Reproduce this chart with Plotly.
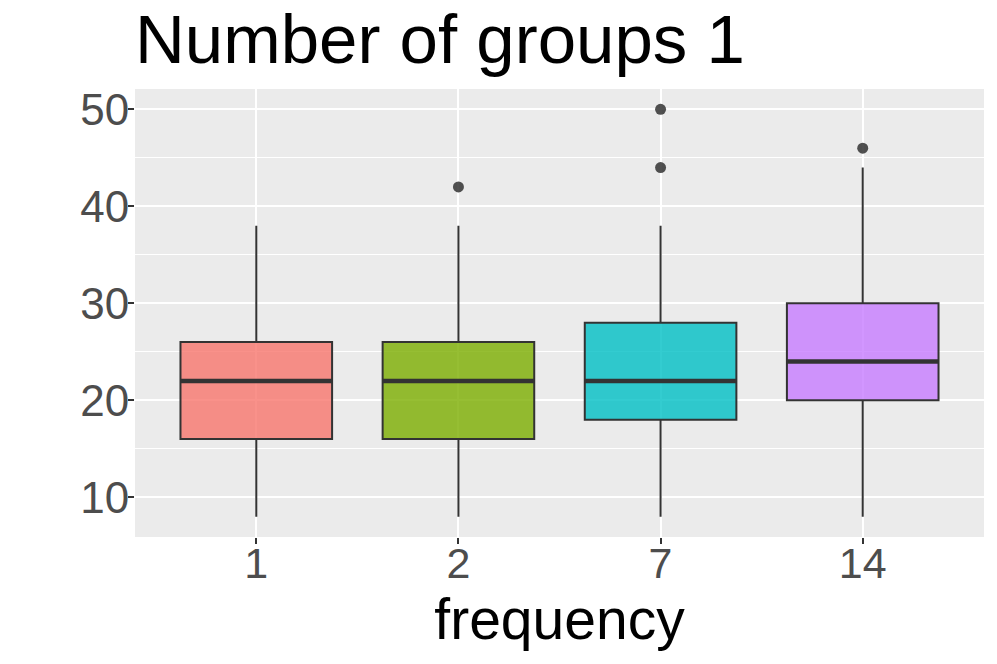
import plotly.graph_objects as go

categories = ["1", "2", "7", "14"]
lower = [8, 8, 8, 8]
q1 = [16, 16, 18, 20]
median = [22, 22, 22, 24]
q3 = [26, 26, 28, 30]
upper = [38, 38, 38, 44]
outlier_group = ["2", "7", "7", "14"]
outlier_value = [42, 44, 50, 46]
colors = ["rgba(248,118,109,0.8)", "rgba(124,174,0,0.8)", "rgba(0,191,196,0.8)", "rgba(199,124,255,0.8)"]

pos = {c: i + 1 for i, c in enumerate(categories)}
BOXW = 0.75
FONT = "Liberation Sans, Arial, sans-serif"

fig = go.Figure()
for i, c in enumerate(categories):
    fig.add_trace(go.Box(
        x=[pos[c]], q1=[q1[i]], median=[median[i]], q3=[q3[i]],
        lowerfence=[lower[i]], upperfence=[upper[i]],
        width=BOXW, whiskerwidth=0, boxpoints=False,
        fillcolor=colors[i], line=dict(color="#333333", width=2),
        showlegend=False, hoverinfo="skip",
    ))
    fig.add_trace(go.Scatter(
        x=[pos[c] - BOXW / 2, pos[c] + BOXW / 2], y=[median[i], median[i]],
        mode="lines", line=dict(color="#333333", width=4.5),
        showlegend=False, hoverinfo="skip",
    ))

fig.add_trace(go.Scatter(
    x=[pos[g] for g in outlier_group], y=outlier_value, mode="markers",
    marker=dict(color="rgba(51,51,51,0.85)", size=11, line=dict(width=0)),
    showlegend=False, hoverinfo="skip",
))

fig.update_layout(
    width=989, height=656,
    margin=dict(l=127, r=13, t=81, b=127),
    paper_bgcolor="white", plot_bgcolor="#EBEBEB",
    font=dict(family=FONT),
    title=dict(text="Number of groups 1", x=0, xref="paper", xanchor="left",
               y=1 - 31 / 656, yref="container", yanchor="middle",
               font=dict(size=69, color="black", family=FONT)),
)
fig.update_xaxes(
    range=[0.4, 4.6], tickmode="array", tickvals=[pos[c] for c in categories], ticktext=categories,
    showgrid=True, gridcolor="white", gridwidth=2, zeroline=False,
    ticks="outside", ticklen=6, tickwidth=2, tickcolor="#333333",
    tickfont=dict(size=43, color="#4D4D4D", family=FONT), ticklabelstandoff=-18,
    title=dict(text="frequency", font=dict(size=57, color="black", family=FONT), standoff=0),
    showline=False,
)
fig.update_yaxes(
    range=[5.9, 52.1], tickmode="array", tickvals=[10, 20, 30, 40, 50],
    showgrid=True, gridcolor="white", gridwidth=2, zeroline=False,
    minor=dict(tickvals=[15, 25, 35, 45], showgrid=True, gridcolor="white", gridwidth=1, ticks=""),
    ticks="outside", ticklen=6, tickwidth=2, tickcolor="#333333",
    tickfont=dict(size=44, color="#4D4D4D", family=FONT), ticklabelstandoff=-10,
    showline=False,
)

fig.write_html("out.html")
